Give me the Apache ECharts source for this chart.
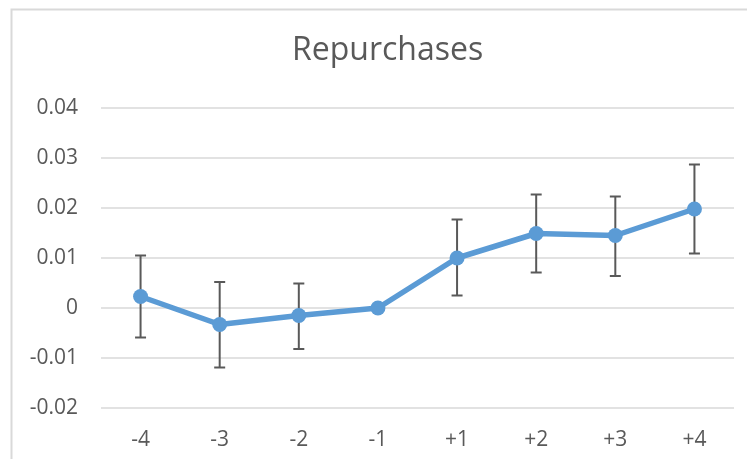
<!DOCTYPE html>
<html>
<head>
<meta charset="utf-8">
<script src="https://cdn.jsdelivr.net/npm/echarts@6/dist/echarts.min.js"></script>
<style>
html,body{margin:0;padding:0;background:#fff;}
#chart{width:747px;height:459px;}
</style>
</head>
<body>
<div id="chart"></div>
<script>
const categories = ['-4', '-3', '-2', '-1', '+1', '+2', '+3', '+4'];
const means = [0.0023, -0.0033, -0.0015, 0.0, 0.0100, 0.0149, 0.0145, 0.0198];
const errLow = [-0.0059, -0.0119, -0.0082, null, 0.0025, 0.0071, 0.0064, 0.0109];
const errHigh = [0.0105, 0.0052, 0.0049, null, 0.0177, 0.0227, 0.0223, 0.0287];
const yTicks = { min: -0.02, max: 0.04, interval: 0.01 };

const FONT = '"Open Sans", sans-serif';
const chart = echarts.init(document.getElementById('chart'), null, { renderer: 'canvas' });

const errData = categories.map((c, i) => [i, errLow[i], errHigh[i]]).filter(d => d[1] !== null);

chart.setOption({
  animation: false,
  backgroundColor: '#fff',
  title: {
    text: 'Repurchases',
    left: 287,
    top: 30,
    textStyle: { fontFamily: FONT, fontSize: 32, fontWeight: 'normal', color: '#595959' }
  },
  graphic: [{
    type: 'rect',
    shape: { x: 11.5, y: 9.5, width: 900, height: 600 },
    style: { fill: null, stroke: '#d9d9d9', lineWidth: 2 },
    silent: true,
    z: -10
  }],
  grid: { left: 101, right: 13, top: 108, bottom: 51 },
  xAxis: {
    type: 'category',
    data: categories,
    boundaryGap: true,
    axisLine: { show: false },
    axisTick: { show: false },
    axisLabel: { fontFamily: FONT, fontSize: 21, color: '#595959', margin: 22 }
  },
  yAxis: {
    type: 'value',
    min: yTicks.min,
    max: yTicks.max,
    interval: yTicks.interval,
    axisLine: { show: false },
    axisTick: { show: false },
    splitLine: { lineStyle: { color: '#d9d9d9', width: 1.5 } },
    axisLabel: {
      fontFamily: FONT, fontSize: 21, color: '#595959', margin: 23,
      formatter: v => String(Math.round(v * 100) / 100)
    }
  },
  series: [
    {
      type: 'custom',
      z: 2,
      data: errData,
      renderItem: function (params, api) {
        const x = api.value(0);
        const lo = api.coord([x, api.value(1)]);
        const hi = api.coord([x, api.value(2)]);
        const hw = 5.5;
        const style = { stroke: '#595959', lineWidth: 2, fill: null };
        return {
          type: 'group',
          children: [
            { type: 'line', shape: { x1: lo[0], y1: lo[1], x2: hi[0], y2: hi[1] }, style },
            { type: 'line', shape: { x1: lo[0] - hw, y1: lo[1], x2: lo[0] + hw, y2: lo[1] }, style },
            { type: 'line', shape: { x1: hi[0] - hw, y1: hi[1], x2: hi[0] + hw, y2: hi[1] }, style }
          ]
        };
      }
    },
    {
      type: 'line',
      z: 5,
      data: means,
      symbol: 'circle',
      symbolSize: 15,
      lineStyle: { color: '#5b9bd5', width: 5.5 },
      itemStyle: { color: '#5b9bd5' }
    }
  ]
});
</script>
</body>
</html>
